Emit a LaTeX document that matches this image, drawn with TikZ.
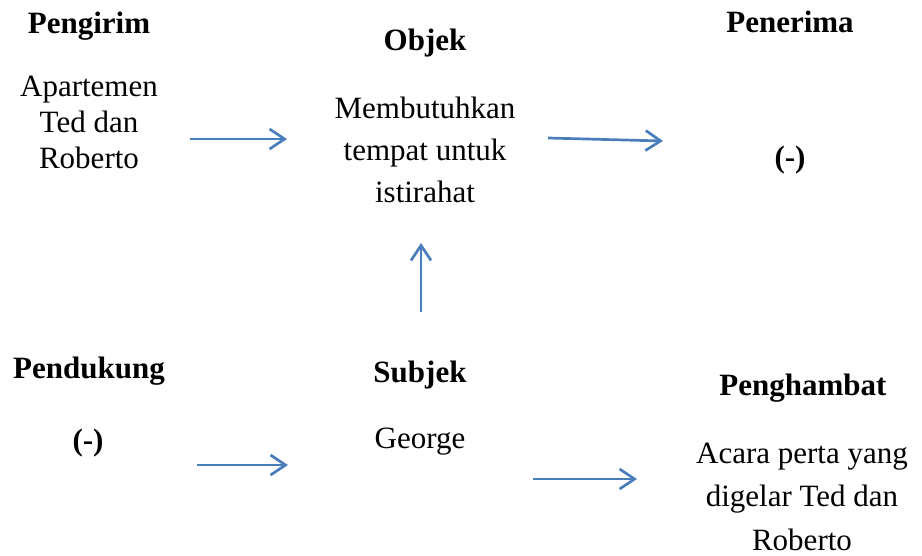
\documentclass[tikz,border=0pt]{standalone}
\usepackage{fontspec}
\setmainfont{Liberation Serif}
\usetikzlibrary{arrows.meta}
\definecolor{flowblue}{RGB}{74,126,187}
\begin{document}
\begin{tikzpicture}[x=1pt,y=-1pt,
  every node/.style={inner sep=0pt,outer sep=0pt,anchor=base,align=center},
  head/.style={font=\fontsize{31}{36}\selectfont\bfseries},
  body/.style={font=\fontsize{31}{36}\selectfont},
  flow/.style={draw=flowblue,line width=2.7pt,
    -{Straight Barb[length=15pt,width=20pt,line width=2.7pt]}}]
\useasboundingbox (0,0) rectangle (922,555);

% actant labels (multi-line nodes are placed by the baseline of their last line)
\node[head] (pengirim) at (89,33) {Pengirim};
\node[body,font=\fontsize{31}{36}\selectfont] (pengirimisi) at (89,168) {Apartemen\\Ted dan\\Roberto};

\node[head] (objek) at (425,50) {Objek};
\node[body,font=\fontsize{31}{42}\selectfont] (objekisi) at (425,202) {Membutuhkan\\tempat untuk\\istirahat};

\node[head] (penerima) at (790,32) {Penerima};
\node[head] (penerimaisi) at (790,167) {(-)};

\node[head] (pendukung) at (89,378) {Pendukung};
\node[head] (pendukungisi) at (88,450) {(-)};

\node[head] (subjek) at (420,382) {Subjek};
\node[body] (subjekisi) at (420,448) {George};

\node[head] (penghambat) at (803,395) {Penghambat};
\node[body,font=\fontsize{31}{43.5}\selectfont] (penghambatisi) at (802,550) {Acara perta yang\\digelar Ted dan\\Roberto};

% arrow end points
\coordinate (a1s) at (190,139);
\coordinate (a1e) at (287,139);
\coordinate (a2s) at (548,138);
\coordinate (a2e) at (663,141);
\coordinate (a3s) at (421,312);
\coordinate (a3e) at (421,243);
\coordinate (a4s) at (197,465);
\coordinate (a4e) at (288,465);
\coordinate (a5s) at (533,479);
\coordinate (a5e) at (637,479);

\draw[flow] (a1s) -- (a1e);
\draw[flow] (a2s) -- (a2e);
\draw[flow] (a3s) -- (a3e);
\draw[flow] (a4s) -- (a4e);
\draw[flow] (a5s) -- (a5e);
\end{tikzpicture}
\end{document}
